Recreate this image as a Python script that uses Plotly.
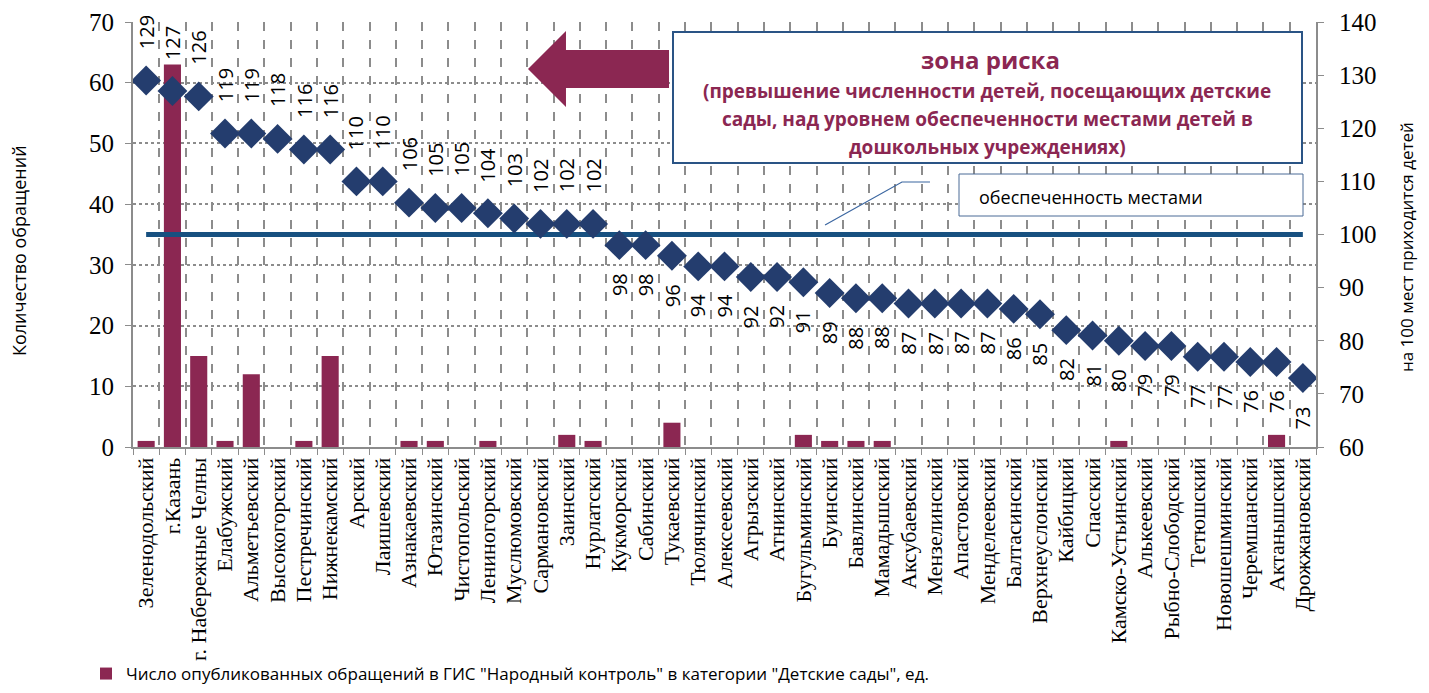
import plotly.graph_objects as go

# ── data ──────────────────────────────────────────────────────────────────────
districts = [
    "Зеленодольский", "г.Казань", "г. Набережные Челны", "Елабужский", "Альметьевский",
    "Высокогорский", "Пестречинский", "Нижнекамский", "Арский", "Лаишевский",
    "Азнакаевский", "Ютазинский", "Чистопольский", "Лениногорский", "Муслюмовский",
    "Сармановский", "Заинский", "Нурлатский", "Кукморский", "Сабинский",
    "Тукаевский", "Тюлячинский", "Алексеевский", "Агрызский", "Атнинский",
    "Бугульминский", "Буинский", "Бавлинский", "Мамадышский", "Аксубаевский",
    "Мензелинский", "Апастовский", "Менделеевский", "Балтасинский", "Верхнеуслонский",
    "Кайбицкий", "Спасский", "Камско-Устьинский", "Алькеевский", "Рыбно-Слободский",
    "Тетюшский", "Новошешминский", "Черемшанский", "Актанышский", "Дрожжановский",
]
complaints = [
    1, 63, 15, 1, 12, 0, 1, 15, 0, 0,
    1, 1, 0, 1, 0, 0, 2, 1, 0, 0,
    4, 0, 0, 0, 0, 2, 1, 1, 1, 0,
    0, 0, 0, 0, 0, 0, 0, 1, 0, 0,
    0, 0, 0, 2, 0,
]
children_per_100 = [
    129, 127, 126, 119, 119, 118, 116, 116, 110, 110,
    106, 105, 105, 104, 103, 102, 102, 102, 98, 98,
    96, 94, 94, 92, 92, 91, 89, 88, 88, 87,
    87, 87, 87, 86, 85, 82, 81, 80, 79, 79,
    77, 77, 76, 76, 73,
]
capacity_level = 100
risk_lines = [
    "(превышение численности детей, посещающих детские",
    "сады, над уровнем обеспеченности местами детей в",
    "дошкольных учреждениях)",
]

BAR_COLOR = "#8b2752"
DIAMOND_COLOR = "#243d6e"
LINE_COLOR = "#175080"
GRID_COLOR = "#8c8c8c"
SERIF = "Liberation Serif"
SANS = "Open Sans"

# the page body has an 8px margin, so the figure is shrunk to fit the window
OFF = 8
W, H = 1429 - 2 * OFF, 693 - 2 * OFF
# plot area in page pixels (for placing the callouts)
L, R, T, B = 133, 1316, 22, 447


def px(x, y):
    return (x - L) / (R - L), (B - y) / (B - T)


fig = go.Figure()

fig.add_trace(go.Bar(
    x=districts, y=complaints, yaxis="y",
    marker=dict(color=BAR_COLOR, line=dict(width=0)),
    width=0.65,
    name='Число опубликованных обращений в ГИС "Народный контроль" в категории "Детские сады", ед.',
))

fig.add_trace(go.Scatter(
    x=[districts[0], districts[-1]], y=[capacity_level, capacity_level], yaxis="y2",
    mode="lines", line=dict(color=LINE_COLOR, width=5), showlegend=False,
))

fig.add_trace(go.Scatter(
    x=districts, y=children_per_100, yaxis="y2", mode="markers",
    marker=dict(symbol="diamond", size=23, color=DIAMOND_COLOR),
    showlegend=False,
))

# rotated value labels (anchored on their middle, shifted by half their length)
for d, v in zip(districts, children_per_100):
    half = len(str(v)) * 5.8
    shift = 31 + half if v > capacity_level else -(28 + half)
    fig.add_annotation(
        x=d, y=v, yref="y2", text=str(v), textangle=-90, showarrow=False,
        xanchor="center", yanchor="middle", yshift=shift,
        font=dict(family=SANS, size=20, color="black"),
    )

# arrow to the left
pts = [(528, 69), (566, 31), (566, 50), (669, 50), (669, 88), (566, 88), (566, 107)]
path = "M " + " L ".join("%.4f,%.4f" % px(x, y) for x, y in pts) + " Z"
fig.add_shape(type="path", path=path, xref="paper", yref="paper",
              fillcolor=BAR_COLOR, line=dict(width=0))

# risk zone box
x0, y0 = px(673, 163)
x1, y1 = px(1302, 32)
fig.add_shape(type="rect", xref="paper", yref="paper", x0=x0, y0=y0, x1=x1, y1=y1,
              fillcolor="white", line=dict(color="#2a5485", width=2))
fig.add_annotation(
    xref="paper", yref="paper", x=px(990, 0)[0], y=px(0, 60)[1], showarrow=False,
    xanchor="center", yanchor="middle",
    text="<b>зона риска</b>", font=dict(family=SANS, size=24, color=BAR_COLOR),
)
for i, line in enumerate(risk_lines):
    fig.add_annotation(
        xref="paper", yref="paper", x=px(987, 0)[0], y=px(0, 91 + 28 * i)[1],
        showarrow=False, xanchor="center", yanchor="middle",
        text="<b>%s</b>" % line, font=dict(family=SANS, size=19, color=BAR_COLOR),
    )

# capacity label box + leader line
bx0, by0 = px(959, 216)
bx1, by1 = px(1303, 174)
fig.add_shape(type="rect", xref="paper", yref="paper", x0=bx0, y0=by0, x1=bx1, y1=by1,
              fillcolor="white", line=dict(color="#4a6a96", width=1))
fig.add_annotation(
    xref="paper", yref="paper", x=px(977, 0)[0], y=px(0, 197)[1],
    xanchor="left", yanchor="middle",
    showarrow=False, text="обеспеченность местами",
    font=dict(family=SANS, size=18, color="black"),
)
lead = [(825, 225), (902, 182), (930, 182)]
fig.add_shape(type="path", xref="paper", yref="paper",
              path="M " + " L ".join("%.4f,%.4f" % px(x, y) for x, y in lead),
              line=dict(color="#3b66a0", width=1.2))

# axis titles
fig.add_annotation(xref="paper", yref="paper", x=px(19, 0)[0], y=px(0, 251)[1],
                   xanchor="center", yanchor="middle",
                   text="Количество обращений", textangle=-90, showarrow=False,
                   font=dict(family=SANS, size=18, color="black"))
fig.add_annotation(xref="paper", yref="paper", x=px(1406, 0)[0], y=px(0, 247)[1],
                   xanchor="center", yanchor="middle",
                   text="на 100 мест приходится детей", textangle=-90, showarrow=False,
                   font=dict(family=SANS, size=17, color="black"))

fig.update_layout(
    width=W, height=H,
    margin=dict(l=L - OFF, r=OFF + W - R, t=T - OFF, b=OFF + H - B, autoexpand=False),
    plot_bgcolor="white", paper_bgcolor="white",
    xaxis=dict(
        type="category", tickangle=-90, tickson="boundaries",
        showgrid=True, gridcolor=GRID_COLOR, griddash="dash", gridwidth=1.5,
        ticks="outside", ticklen=6, tickcolor=GRID_COLOR,
        showline=True, linecolor=GRID_COLOR, linewidth=2,
        tickfont=dict(family=SERIF, size=22, color="black"),
        range=[-0.5, len(districts) - 0.5], automargin=False,
    ),
    yaxis=dict(
        range=[0, 70], dtick=10, showgrid=True, gridcolor=GRID_COLOR, griddash="dot",
        gridwidth=1.5, ticks="outside", ticklen=6, tickcolor=GRID_COLOR,
        showline=True, linecolor=GRID_COLOR, linewidth=2, zeroline=False,
        tickfont=dict(family=SERIF, size=25, color="black"), automargin=False,
        ticklabelstandoff=6,
    ),
    yaxis2=dict(
        range=[60, 140], dtick=10, overlaying="y", side="right", showgrid=False,
        ticks="outside", ticklen=6, tickcolor=GRID_COLOR,
        showline=True, linecolor=GRID_COLOR, linewidth=2, zeroline=False,
        tickfont=dict(family=SERIF, size=25, color="black"), automargin=False,
        ticklabelstandoff=10,
    ),
    legend=dict(orientation="h", x=px(86, 0)[0], y=px(0, 674)[1], xanchor="left",
                yanchor="middle", font=dict(family=SANS, size=17, color="black"),
                itemwidth=30, bgcolor="rgba(0,0,0,0)"),
    showlegend=True,
)

fig.write_html("out.html")
